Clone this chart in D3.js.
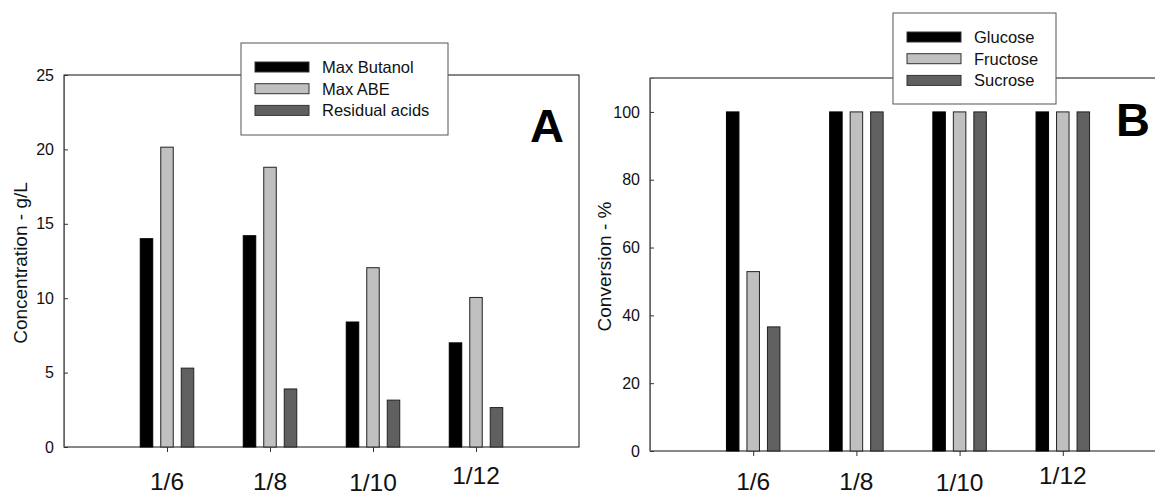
<!DOCTYPE html>
<html>
<head>
<meta charset="utf-8">
<script src="https://cdn.jsdelivr.net/npm/d3@7"></script>
<style>
  body { margin: 0; background: #fff; }
  svg { display: block; font-family: "Liberation Sans", Arial, sans-serif; }
</style>
</head>
<body>
<svg id="chart" width="1155" height="497"></svg>
<script>
// data
const ratios = ["1/6", "1/8", "1/10", "1/12"];
const ratioShift = [0, 0, 1, -6]; // the labels were hand placed, 1/12 sits higher

const maxButanol = [14.0, 14.2, 8.4, 7.0];
const maxABE = [20.15, 18.8, 12.05, 10.05];
const residualAcids = [5.3, 3.9, 3.15, 2.65];
const concTicks = [0, 5, 10, 15, 20, 25];

const glucose = [100, 100, 100, 100];
const fructose = [52.9, 100, 100, 100];
const sucrose = [36.6, 100, 100, 100];
const convTicks = [0, 20, 40, 60, 80, 100];

const fills = ["#000000", "#c0c0c0", "#606060"];

const svg = d3.select("#chart");

function drawPanel(p) {
    const g = svg.append("g");

    const x = d3.scaleLinear().domain([0, ratios.length + 1]).range([p.left, p.right]);
    const y = d3.scaleLinear().domain(p.domain).range([p.bottom, p.top]);
    const offset = d3.scalePoint().domain(p.names).range([-20.5, 20.5]);
    const barW = 12.5;

    // frame
    g.append("rect")
        .attr("x", p.left).attr("y", p.top)
        .attr("width", p.right - p.left).attr("height", p.bottom - p.top)
        .attr("fill", "none").attr("stroke", "#111").attr("stroke-width", 1);

    // bars
    p.series.forEach((vals, s) => {
        g.selectAll(".bar" + s)
            .data(vals)
            .enter().append("rect")
            .attr("x", (d, i) => x(i + 1) + offset(p.names[s]) - barW / 2)
            .attr("y", d => y(d))
            .attr("width", barW)
            .attr("height", d => y(0) - y(d))
            .attr("fill", fills[s])
            .attr("stroke", s === 0 ? "#000" : "#222")
            .attr("stroke-width", 1);
    });

    // y axis, ticks inside
    const yAxis = d3.axisRight(y).tickValues(p.ticks).tickSize(4).tickFormat(d3.format("d"));
    const ya = g.append("g").attr("transform", `translate(${p.left},0)`).call(yAxis);
    ya.select(".domain").attr("stroke", "#666");
    ya.selectAll(".tick line").attr("stroke", "#333");
    ya.selectAll(".tick text")
        .attr("x", -10).attr("text-anchor", "end")
        .attr("font-size", 16).attr("font-family", "Liberation Sans, Arial, sans-serif")
        .attr("fill", "#111");

    // x axis, ticks outside
    const xAxis = d3.axisBottom(x).tickValues(d3.range(1, ratios.length + 1)).tickSize(5).tickFormat("");
    const xa = g.append("g").attr("transform", `translate(0,${p.bottom})`).call(xAxis);
    xa.select(".domain").remove();
    xa.selectAll(".tick line").attr("stroke", "#333");

    g.selectAll(".cat")
        .data(ratios)
        .enter().append("text")
        .attr("x", (d, i) => x(i + 1))
        .attr("y", (d, i) => 490 + ratioShift[i])
        .attr("text-anchor", "middle")
        .attr("font-size", 24.5)
        .attr("fill", "#111")
        .text(d => d);

    // axis title
    g.append("text")
        .attr("transform", `translate(${p.titleX},${(p.top + p.bottom) / 2 + 2}) rotate(-90)`)
        .attr("text-anchor", "middle")
        .attr("font-size", 19)
        .attr("fill", "#111")
        .text(p.title);

    // panel letter
    g.append("text")
        .attr("x", p.letterX).attr("y", p.letterY)
        .attr("text-anchor", "middle")
        .attr("font-size", 47).attr("font-weight", "bold")
        .attr("fill", "#000")
        .text(p.letter);

    // legend
    const L = p.legend;
    const lg = g.append("g");
    lg.append("rect")
        .attr("x", L.x).attr("y", L.y).attr("width", L.w).attr("height", L.h)
        .attr("fill", "#fff").attr("stroke", "#555").attr("stroke-width", 1);
    p.names.forEach((name, s) => {
        const cy = L.y + 24 + s * 21.7;
        lg.append("rect")
            .attr("x", L.x + 14).attr("y", cy - 5)
            .attr("width", 54).attr("height", 10)
            .attr("fill", fills[s]).attr("stroke", "#333").attr("stroke-width", 1);
        lg.append("text")
            .attr("x", L.x + 81).attr("y", cy + 6)
            .attr("font-size", 16.5).attr("fill", "#111")
            .text(name);
    });
}

drawPanel({
    left: 64, right: 579, top: 75, bottom: 447,
    domain: [0, 25], ticks: concTicks,
    names: ["Max Butanol", "Max ABE", "Residual acids"],
    series: [maxButanol, maxABE, residualAcids],
    title: "Concentration - g/L", titleX: 27,
    letter: "A", letterX: 547, letterY: 142,
    legend: { x: 241, y: 43, w: 207, h: 92 }
});

drawPanel({
    left: 650, right: 1166, top: 78, bottom: 451,
    domain: [0, 110], ticks: convTicks,
    names: ["Glucose", "Fructose", "Sucrose"],
    series: [glucose, fructose, sucrose],
    title: "Conversion - %", titleX: 611,
    letter: "B", letterX: 1133, letterY: 136,
    legend: { x: 893, y: 13, w: 163, h: 91 }
});
</script>
</body>
</html>
